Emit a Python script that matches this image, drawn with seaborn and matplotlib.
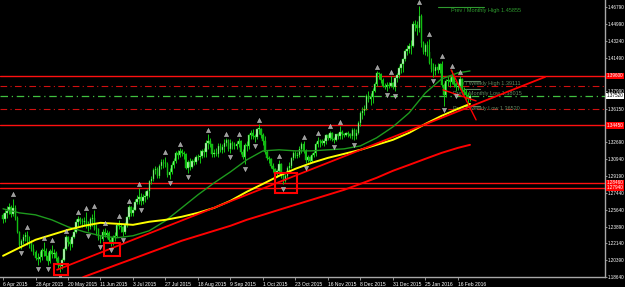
import numpy as np
import matplotlib
matplotlib.use("Agg")
import matplotlib.pyplot as plt
from matplotlib.patches import Rectangle
import seaborn as sns

# USDCAD daily bars, 6 Apr 2015 .. 24 Feb 2016 (one bar per trading day)
first_open = 1.2510
close = [
    1.2470, 1.2530, 1.2550, 1.2590, 1.2520, 1.2580, 1.2480, 1.2330, 1.2200, 1.2240,
    1.2280, 1.2300, 1.2240, 1.2230, 1.2160, 1.2120, 1.2060, 1.2050, 1.2070, 1.2150,
    1.2130, 1.2080, 1.2030, 1.2140, 1.2100, 1.2110, 1.2060, 1.1990, 1.1980, 1.2040,
    1.2160, 1.2280, 1.2230, 1.2210, 1.2280, 1.2330, 1.2440, 1.2470, 1.2450, 1.2440,
    1.2450, 1.2410, 1.2390, 1.2470, 1.2480, 1.2370, 1.2360, 1.2270, 1.2260, 1.2330,
    1.2300, 1.2320, 1.2250, 1.2230, 1.2280, 1.2290, 1.2410, 1.2400, 1.2390, 1.2330,
    1.2410, 1.2490, 1.2590, 1.2530, 1.2560, 1.2650, 1.2680, 1.2700, 1.2660, 1.2700,
    1.2710, 1.2760, 1.2860, 1.2890, 1.2980, 1.2990, 1.2920, 1.3020, 1.3060, 1.3060,
    1.3040, 1.2930, 1.2960, 1.3030, 1.3070, 1.3160, 1.3140, 1.3180, 1.3160, 1.3150,
    1.3000, 1.3060, 1.3010, 1.3070, 1.3060, 1.3120, 1.3110, 1.3130, 1.3180, 1.3170,
    1.3260, 1.3280, 1.3250, 1.3150, 1.3160, 1.3150, 1.3230, 1.3190, 1.3220, 1.3260,
    1.3290, 1.3200, 1.3260, 1.3240, 1.3230, 1.3250, 1.3280, 1.3170, 1.3110, 1.3240,
    1.3230, 1.3340, 1.3370, 1.3330, 1.3320, 1.3410, 1.3410, 1.3340, 1.3280, 1.3170,
    1.3100, 1.3090, 1.3020, 1.2990, 1.2940, 1.2970, 1.3040, 1.2930, 1.2860, 1.2920,
    1.3000, 1.3020, 1.3100, 1.3160, 1.3130, 1.3140, 1.3200, 1.3250, 1.3180, 1.3080,
    1.3110, 1.3070, 1.3140, 1.3160, 1.3250, 1.3280, 1.3280, 1.3260, 1.3280, 1.3340,
    1.3310, 1.3370, 1.3300, 1.3290, 1.3350, 1.3330, 1.3380, 1.3360, 1.3340, 1.3370,
    1.3350, 1.3330, 1.3400, 1.3330, 1.3370, 1.3470, 1.3570, 1.3590, 1.3620, 1.3750,
    1.3720, 1.3740, 1.3800, 1.3880, 1.3990, 1.3980, 1.3920, 1.3860, 1.3850, 1.3870,
    1.3860, 1.3890, 1.3840, 1.3940, 1.3970, 1.4040, 1.4080, 1.4140, 1.4220, 1.4240,
    1.4270, 1.4270, 1.4500, 1.4490, 1.4460, 1.4580, 1.4300, 1.4210, 1.4280, 1.4210,
    1.4100, 1.4030, 1.4010, 1.4050, 1.4020, 1.4080, 1.3870, 1.3760, 1.3910, 1.3920,
    1.3900, 1.3950, 1.3880, 1.3850, 1.3860, 1.3930, 1.3810, 1.3790, 1.3760, 1.3720,
    1.3752,
]
high = [
    1.2530, 1.2560, 1.2600, 1.2640, 1.2610, 1.2680, 1.2610, 1.2500, 1.2340, 1.2260,
    1.2310, 1.2330, 1.2340, 1.2290, 1.2250, 1.2210, 1.2150, 1.2110, 1.2130, 1.2170,
    1.2230, 1.2170, 1.2120, 1.2160, 1.2200, 1.2160, 1.2140, 1.2080, 1.2010, 1.2060,
    1.2180, 1.2300, 1.2290, 1.2260, 1.2300, 1.2360, 1.2470, 1.2500, 1.2490, 1.2480,
    1.2490, 1.2540, 1.2450, 1.2490, 1.2520, 1.2560, 1.2420, 1.2380, 1.2300, 1.2360,
    1.2380, 1.2350, 1.2340, 1.2280, 1.2300, 1.2330, 1.2430, 1.2460, 1.2420, 1.2400,
    1.2440, 1.2500, 1.2610, 1.2600, 1.2590, 1.2680, 1.2720, 1.2790, 1.2740, 1.2730,
    1.2760, 1.2780, 1.2880, 1.2920, 1.3000, 1.3020, 1.3010, 1.3040, 1.3090, 1.3090,
    1.3120, 1.3060, 1.3000, 1.3060, 1.3100, 1.3180, 1.3190, 1.3210, 1.3200, 1.3180,
    1.3160, 1.3080, 1.3100, 1.3090, 1.3100, 1.3140, 1.3150, 1.3190, 1.3200, 1.3210,
    1.3290, 1.3350, 1.3310, 1.3250, 1.3200, 1.3210, 1.3260, 1.3260, 1.3250, 1.3300,
    1.3310, 1.3300, 1.3300, 1.3280, 1.3270, 1.3280, 1.3310, 1.3290, 1.3200, 1.3260,
    1.3280, 1.3360, 1.3400, 1.3410, 1.3350, 1.3420, 1.3460, 1.3420, 1.3370, 1.3330,
    1.3190, 1.3130, 1.3100, 1.3050, 1.3000, 1.2990, 1.3080, 1.3050, 1.2950, 1.2940,
    1.3020, 1.3060, 1.3120, 1.3180, 1.3180, 1.3170, 1.3230, 1.3270, 1.3280, 1.3200,
    1.3140, 1.3130, 1.3160, 1.3180, 1.3270, 1.3320, 1.3300, 1.3300, 1.3310, 1.3350,
    1.3360, 1.3390, 1.3380, 1.3320, 1.3360, 1.3370, 1.3440, 1.3400, 1.3370, 1.3380,
    1.3390, 1.3370, 1.3420, 1.3420, 1.3410, 1.3490, 1.3590, 1.3640, 1.3660, 1.3770,
    1.3800, 1.3780, 1.3830, 1.3900, 1.4010, 1.4000, 1.3990, 1.3940, 1.3890, 1.3900,
    1.3900, 1.3960, 1.3900, 1.3950, 1.3990, 1.4060, 1.4100, 1.4150, 1.4240, 1.4280,
    1.4300, 1.4330, 1.4530, 1.4540, 1.4530, 1.4690, 1.4610, 1.4320, 1.4300, 1.4320,
    1.4350, 1.4150, 1.4100, 1.4080, 1.4090, 1.4100, 1.4120, 1.3890, 1.3930, 1.3960,
    1.3950, 1.4020, 1.3960, 1.3900, 1.3890, 1.3960, 1.3940, 1.3850, 1.3820, 1.3790,
    1.3770,
]
low = [
    1.2430, 1.2440, 1.2480, 1.2520, 1.2490, 1.2500, 1.2460, 1.2320, 1.2180, 1.2160,
    1.2210, 1.2240, 1.2200, 1.2170, 1.2140, 1.2090, 1.2040, 1.1990, 1.2020, 1.2040,
    1.2080, 1.2040, 1.1990, 1.2010, 1.2060, 1.2060, 1.2030, 1.1960, 1.1920, 1.1950,
    1.2030, 1.2150, 1.2190, 1.2150, 1.2180, 1.2270, 1.2320, 1.2400, 1.2420, 1.2390,
    1.2400, 1.2380, 1.2340, 1.2360, 1.2400, 1.2350, 1.2300, 1.2250, 1.2220, 1.2240,
    1.2280, 1.2270, 1.2230, 1.2190, 1.2200, 1.2240, 1.2280, 1.2360, 1.2330, 1.2290,
    1.2310, 1.2390, 1.2470, 1.2500, 1.2500, 1.2560, 1.2620, 1.2630, 1.2610, 1.2620,
    1.2650, 1.2680, 1.2700, 1.2830, 1.2870, 1.2940, 1.2900, 1.2900, 1.2990, 1.3000,
    1.3010, 1.2910, 1.2890, 1.2940, 1.3000, 1.3050, 1.3090, 1.3120, 1.3130, 1.3090,
    1.2990, 1.2950, 1.2980, 1.3000, 1.3030, 1.3040, 1.3080, 1.3050, 1.3100, 1.3120,
    1.3120, 1.3200, 1.3220, 1.3120, 1.3110, 1.3130, 1.3110, 1.3170, 1.3160, 1.3170,
    1.3230, 1.3180, 1.3160, 1.3200, 1.3200, 1.3200, 1.3220, 1.3150, 1.3090, 1.3040,
    1.3180, 1.3200, 1.3300, 1.3300, 1.3270, 1.3300, 1.3350, 1.3310, 1.3240, 1.3150,
    1.3080, 1.3050, 1.3000, 1.2960, 1.2920, 1.2910, 1.2950, 1.2900, 1.2830, 1.2850,
    1.2900, 1.2960, 1.3000, 1.3080, 1.3100, 1.3100, 1.3120, 1.3160, 1.3160, 1.3050,
    1.3060, 1.3060, 1.3060, 1.3110, 1.3130, 1.3220, 1.3220, 1.3240, 1.3230, 1.3250,
    1.3290, 1.3290, 1.3280, 1.3260, 1.3280, 1.3300, 1.3300, 1.3300, 1.3320, 1.3330,
    1.3320, 1.3310, 1.3300, 1.3290, 1.3300, 1.3360, 1.3440, 1.3510, 1.3550, 1.3610,
    1.3690, 1.3660, 1.3680, 1.3790, 1.3860, 1.3930, 1.3890, 1.3840, 1.3820, 1.3805,
    1.3830, 1.3840, 1.3825, 1.3800, 1.3900, 1.3940, 1.3990, 1.4000, 1.4120, 1.4180,
    1.4200, 1.4190, 1.4260, 1.4430, 1.4390, 1.4420, 1.4260, 1.4190, 1.4180, 1.4170,
    1.4080, 1.4000, 1.3950, 1.3970, 1.3990, 1.3990, 1.3850, 1.3650, 1.3740, 1.3860,
    1.3850, 1.3880, 1.3840, 1.3800, 1.3810, 1.3820, 1.3790, 1.3760, 1.3700, 1.3660,
    1.3700,
]

date_pos = list(range(0, 225, 16))
date_labels = ["6 Apr 2015", "28 Apr 2015", "20 May 2015", "11 Jun 2015", "3 Jul 2015",
               "27 Jul 2015", "18 Aug 2015", "9 Sep 2015", "1 Oct 2015", "23 Oct 2015",
               "16 Nov 2015", "8 Dec 2015", "31 Dec 2015", "25 Jan 2016", "16 Feb 2016"]

price_ticks = [1.46790, 1.44990, 1.43240, 1.41490, 1.37990, 1.36150, 1.32690,
               1.30940, 1.29190, 1.27440, 1.25640, 1.23890, 1.22140, 1.20390, 1.18640]

# moving averages, every 8 bars
ma_idx = list(range(0, 225, 8)) + [230]
ma50 = [1.2575, 1.2533, 1.2512, 1.2460, 1.2387, 1.2335, 1.2294, 1.2273, 1.2294, 1.2346,
        1.2450, 1.2585, 1.2721, 1.2846, 1.2960, 1.3085, 1.3179, 1.3190, 1.3179, 1.3179,
        1.3190, 1.3200, 1.3231, 1.3315, 1.3429, 1.3575, 1.3783, 1.3929, 1.3992, 1.4012]
ma100 = [1.2085, 1.2169, 1.2252, 1.2304, 1.2356, 1.2398, 1.2429, 1.2419, 1.2408, 1.2440,
         1.2460, 1.2492, 1.2533, 1.2585, 1.2658, 1.2752, 1.2835, 1.2919, 1.2992, 1.3054,
         1.3106, 1.3148, 1.3190, 1.3242, 1.3294, 1.3367, 1.3460, 1.3544, 1.3617, 1.3669]
ma200_idx = [38] + list(range(40, 225, 8)) + [230]
ma200 = [1.1845, 1.1867, 1.1929, 1.1992, 1.2054, 1.2117, 1.2179, 1.2242, 1.2294, 1.2346,
         1.2398, 1.2460, 1.2512, 1.2565, 1.2617, 1.2669, 1.2721, 1.2773, 1.2835, 1.2898,
         1.2971, 1.3033, 1.3096, 1.3158, 1.3210, 1.3242]

# drawn levels and objects
red_levels = [1.3960, 1.3445, 1.2846, 1.2794]
red_dashdot = [1.3856, 1.3617]
bid = 1.3752
red_marks = ["1.39600", "1.34450", "1.28460", "1.27940"]
trend_x, trend_y = [26.6, 267.0], [1.1939, 1.3950]
wedge_a_x, wedge_a_y = [220.7, 233.0], [1.4023, 1.3502]
wedge_b_x, wedge_b_y = [216.7, 233.0], [1.3815, 1.3700]
boxes = [(25.3, 1.1887, 6.6, 0.0115), (49.8, 1.2085, 7.8, 0.0136), (134.0, 1.2742, 10.8, 0.0208)]
level_notes = [("Prev / Monthly High 1.45855", 1.4680, 1.4641, "#2f9a2f"),
               ("Prev / Weekly High 1.39111", 1.3911, 1.3878, "#5f875f"),
               ("Prev / Monthly Low 1.38015", 1.3825, 1.3773, "#5f875f"),
               ("Prev / Weekly Low 1.36520", 1.3652, 1.3617, "#5f875f")]

sns.set_theme(style="dark", rc={"axes.facecolor": "black", "figure.facecolor": "black"})
plt.rcParams["font.family"] = ["Liberation Sans", "DejaVu Sans"]

fig = plt.figure(figsize=(6.25, 2.87), dpi=100)
ax = fig.add_axes([0, 10 / 287, 605 / 625, 277 / 287])
ax.set_facecolor("black")

n = len(close)
idx = np.arange(n)
c = np.array(close)
o = np.r_[first_open, c[:-1]]
h = np.array(high)
l = np.array(low)

# horizontal levels (behind the bars)
for lv in red_levels:
    ax.axhline(lv, color="#ff1010", lw=1.0, zorder=1)
for lv in red_dashdot:
    ax.axhline(lv, color="#d01010", lw=0.8, ls=(0, (6, 3, 1, 3)), zorder=1)
ax.axhline(bid, color="#40c040", lw=0.9, ls=(0, (6, 3, 1, 3)), zorder=1)

for txt, lv, ty, col in level_notes:
    monthly_high = "Monthly High" in txt
    x0, x1 = (214, 237) if monthly_high else (227, 235)
    ax.plot([x0, x1], [lv, lv], color=col, lw=0.8, zorder=1)
    ax.text(220.5 if monthly_high else 221.5, ty, txt, color=col, fontsize=4.0,
            va="center", ha="left", zorder=1)

# candles
bull = c >= o
body_lo = np.minimum(o, c)
body_h = np.maximum(np.abs(c - o), 0.0004)
ax.vlines(idx, l, h, color="#12c812", lw=0.7, zorder=2)
ax.bar(idx, body_h, bottom=body_lo, width=0.7,
       color=np.where(bull, "#c8f5c8", "#14b414"), edgecolor="#12c812", linewidth=0.3, zorder=2)

# fractals
up = [i for i in range(2, n - 2) if h[i] > max(h[i - 2], h[i - 1], h[i + 1], h[i + 2])]
dn = [i for i in range(2, n - 2) if l[i] < min(l[i - 2], l[i - 1], l[i + 1], l[i + 2])]
sns.scatterplot(x=up, y=h[up] + 0.0045, marker="^", color="#9a9a9a", edgecolor="#dcdcdc",
                linewidth=0.3, s=9, ax=ax, zorder=4)
sns.scatterplot(x=dn, y=l[dn] - 0.0045, marker="v", color="#9a9a9a", edgecolor="#dcdcdc",
                linewidth=0.3, s=9, ax=ax, zorder=4)

# moving averages
sns.lineplot(x=ma_idx, y=ma50, color="#1e9a1e", lw=1.0, ax=ax, zorder=3)
sns.lineplot(x=ma_idx, y=ma100, color="#ffff00", lw=1.4, ax=ax, zorder=3)
sns.lineplot(x=ma200_idx, y=ma200, color="#ff0000", lw=1.4, ax=ax, zorder=3)

# trend lines and boxes
ax.plot(trend_x, trend_y, color="#ff0000", lw=1.3, zorder=3)
ax.plot(wedge_a_x, wedge_a_y, color="#ff0000", lw=1.0, zorder=3)
ax.plot(wedge_b_x, wedge_b_y, color="#ff0000", lw=1.0, zorder=3)
for bx, by, bw, bh in boxes:
    ax.add_patch(Rectangle((bx, by), bw, bh, fill=False, ec="#ff0000", lw=1.5, zorder=5))

ax.set_xlim(-1.5, 296.5)
ax.set_ylim(1.1864, 1.4752)
ax.grid(False)
for side in ["top", "left"]:
    ax.spines[side].set_visible(False)
for side in ["right", "bottom"]:
    ax.spines[side].set_color("#a8a8a8")
    ax.spines[side].set_linewidth(1.0)

ax.yaxis.tick_right()
ax.set_yticks(price_ticks)
ax.set_yticklabels([f"{v:.5f}" for v in price_ticks])
ax.set_xticks(date_pos)
ax.set_xticklabels(date_labels, ha="left")
ax.tick_params(axis="y", colors="#a8a8a8", labelcolor="white", length=1.2, width=0.6,
               labelsize=3.3, pad=0.6)
ax.tick_params(axis="x", colors="#a8a8a8", labelcolor="white", length=2.5, width=0.6,
               labelsize=3.6, pad=1, bottom=True)
ax.set_xlabel("")
ax.set_ylabel("")

ytr = ax.get_yaxis_transform()
for lv, s in zip(red_levels, red_marks):
    ax.text(1.003, lv, s, transform=ytr, fontsize=3.3, color="white", va="center", ha="left",
            bbox=dict(boxstyle="square,pad=0.15", fc="#ff0000", ec="none"), clip_on=False)
ax.text(1.003, bid, f"{bid:.5f}", transform=ytr, fontsize=3.3, color="black", va="center",
        ha="left", bbox=dict(boxstyle="square,pad=0.15", fc="white", ec="none"), clip_on=False)

fig.savefig("out.png", dpi=100, facecolor="black")
